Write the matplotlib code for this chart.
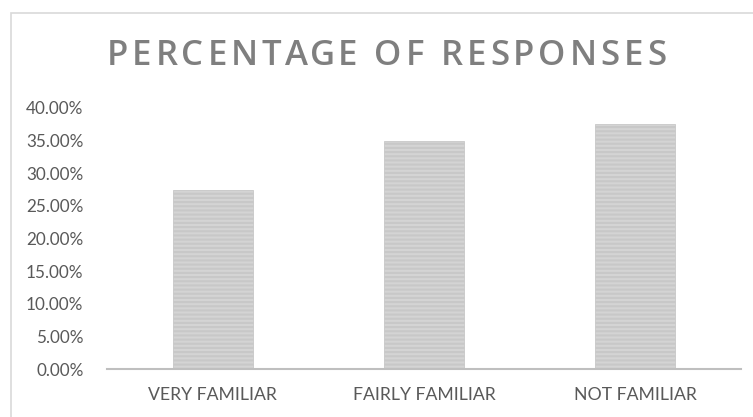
import matplotlib
matplotlib.use("Agg")
import matplotlib.pyplot as plt
from matplotlib.patches import Rectangle
from matplotlib.ticker import FuncFormatter

# survey answers
categories = ["VERY FAMILIAR", "FAIRLY FAMILIAR", "NOT FAMILIAR"]
shares = [0.275, 0.349, 0.375]
yticks = [0.0, 0.05, 0.10, 0.15, 0.20, 0.25, 0.30, 0.35, 0.40]
title = "PERCENTAGE OF RESPONSES"

plt.rcParams['font.family'] = ['Lato', 'DejaVu Sans']
plt.rcParams['hatch.color'] = '#a6a6a6'
plt.rcParams['hatch.linewidth'] = 1.5

W, H = 753, 417
fig = plt.figure(figsize=(W / 100, H / 100), dpi=100)
ax = fig.add_axes([107 / W, 1 - 369 / H, (741 - 107) / W, (369 - 108) / H])

# chart frame (runs off the bottom/right edge)
fig.patches.append(Rectangle((11 / W, -0.05), 1.1, 1 - 13 / H + 0.05,
                             transform=fig.transFigure, fill=False,
                             edgecolor='#d9d9d9', linewidth=1.2))

x = range(len(categories))
ax.bar(x, shares, width=0.38, color='#d4d4d4', edgecolor='#c8c8c8',
       linewidth=0.6, hatch='----')

ax.set_xlim(-0.5, 2.5)
ax.set_ylim(0, 0.40)
ax.set_yticks(yticks)
ax.yaxis.set_major_formatter(FuncFormatter(lambda v, p: f"{v * 100:.2f}%"))
ax.set_xticks(list(x))
ax.set_xticklabels(categories)

for s in ['top', 'right', 'left']:
    ax.spines[s].set_visible(False)
ax.spines['bottom'].set_color('#bfbfbf')
ax.spines['bottom'].set_linewidth(1.5)
ax.tick_params(axis='both', length=0, labelsize=12.3, labelcolor='#595959')
ax.tick_params(axis='y', pad=17)
ax.tick_params(axis='x', pad=13, labelsize=12.7)

# spaced-out title: lay the letters out one by one
renderer = fig.canvas.get_renderer()
tkw = dict(fontsize=25, color='#7f7f7f', fontweight='semibold',
           family=['Open Sans', 'DejaVu Sans'], va='center', ha='left')


def text_width(s):
    t = fig.text(0, 0, s + "|", **tkw)
    w = t.get_window_extent(renderer).width
    t.remove()
    return w


bar_w = text_width("")
offsets = [text_width(title[:i]) - bar_w for i in range(len(title))]
natural = text_width(title) - bar_w
left, right = 107, 666
gap = (right - left - natural) / (len(title) - 1)
for i, ch in enumerate(title):
    if ch != " ":
        fig.text((left + offsets[i] + i * gap) / W, 1 - 56 / H, ch, **tkw)

fig.savefig("out.png", dpi=100)
